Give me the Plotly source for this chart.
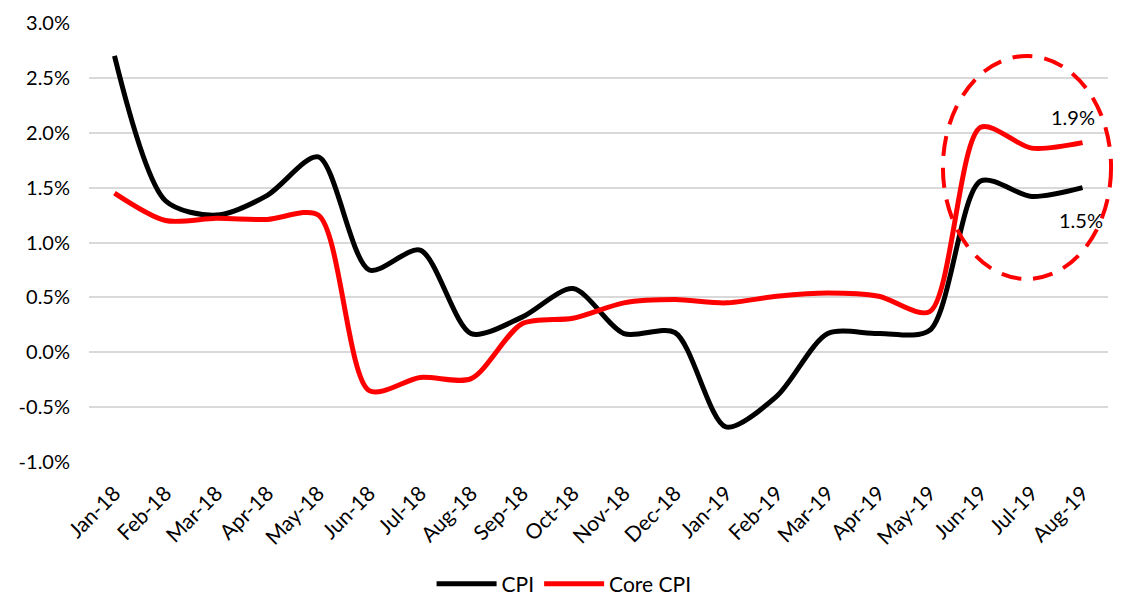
import plotly.graph_objects as go

months = ["Jan-18", "Feb-18", "Mar-18", "Apr-18", "May-18", "Jun-18", "Jul-18",
          "Aug-18", "Sep-18", "Oct-18", "Nov-18", "Dec-18", "Jan-19", "Feb-19",
          "Mar-19", "Apr-19", "May-19", "Jun-19", "Jul-19", "Aug-19"]
cpi = [2.70, 1.38, 1.25, 1.43, 1.78, 0.75, 0.93, 0.17, 0.32, 0.58, 0.17, 0.18,
       -0.68, -0.40, 0.17, 0.17, 0.20, 1.56, 1.42, 1.50]
core_cpi = [1.45, 1.20, 1.22, 1.21, 1.25, -0.35, -0.23, -0.24, 0.26, 0.31, 0.45, 0.48,
            0.45, 0.51, 0.54, 0.51, 0.37, 2.05, 1.86, 1.91]
y_ticks = [-1.0, -0.5, 0.0, 0.5, 1.0, 1.5, 2.0, 2.5, 3.0]
y_tick_labels = ["-1.0%", "-0.5%", "0.0%", "0.5%", "1.0%", "1.5%", "2.0%", "2.5%", "3.0%"]
end_labels = ["1.9%", "1.5%"]

FONT = "Lato"

fig = go.Figure()
fig.add_trace(go.Scatter(x=months, y=cpi, name="CPI", mode="lines",
                         line=dict(color="black", width=5, shape="spline", smoothing=0.8)))
fig.add_trace(go.Scatter(x=months, y=core_cpi, name="Core CPI", mode="lines",
                         line=dict(color="#ff0000", width=5, shape="spline", smoothing=0.8)))

fig.add_shape(type="circle", xref="paper", yref="paper",
              x0=0.838, x1=1.003, y0=0.417, y1=0.925,
              line=dict(color="#ff0000", width=4, dash="20px,12px"))

fig.add_annotation(x=months[-1], y=core_cpi[-1], text=end_labels[0], showarrow=False,
                   xshift=-10, yshift=26, font=dict(family=FONT, size=20, color="black"))
fig.add_annotation(x=months[-1], y=cpi[-1], text=end_labels[1], showarrow=False,
                   xshift=-2, yshift=-32, font=dict(family=FONT, size=20, color="black"))

fig.update_layout(
    width=1121, height=601,
    margin=dict(l=89, r=13, t=23, b=139, autoexpand=False),
    paper_bgcolor="white", plot_bgcolor="white",
    font=dict(family=FONT, size=19, color="black"),
    showlegend=True,
    legend=dict(orientation="h", xref="container", x=0.385, xanchor="left",
                yref="container", y=0.028, yanchor="middle",
                font=dict(family=FONT, size=21, color="black"), itemwidth=60),
)
fig.update_xaxes(type="category", range=[-0.5, 19.5], tickangle=-45, automargin=False,
                 showgrid=False, showline=False, ticks="", ticklabelstandoff=14,
                 tickfont=dict(family=FONT, size=21, color="black"))
fig.update_yaxes(range=[-1.0, 3.0], tickvals=y_ticks, ticktext=y_tick_labels,
                 automargin=False,
                 showgrid=True, gridcolor="#d9d9d9", gridwidth=1.5,
                 zeroline=False, showline=False, ticks="", ticklabelstandoff=18,
                 tickfont=dict(family=FONT, size=20, color="black"))

fig.write_html("out.html")
